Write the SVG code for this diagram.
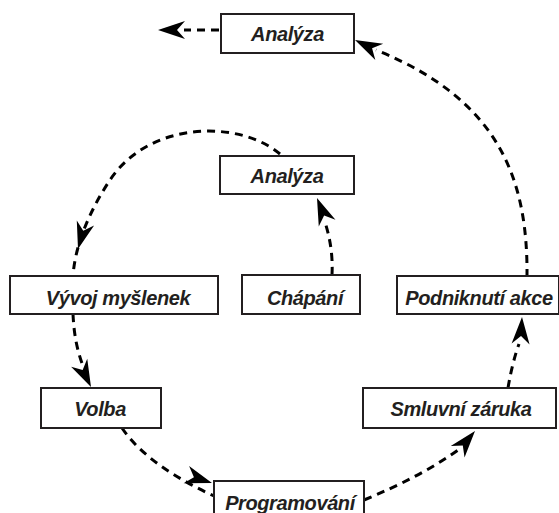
<svg xmlns="http://www.w3.org/2000/svg" xmlns:xlink="http://www.w3.org/1999/xlink" width="559" height="513" viewBox="0 0 559 513">
<style>
.box{fill:#fff;stroke:#231f20;stroke-width:2}
.lbl{font-family:"Liberation Sans",Arial,sans-serif;font-weight:bold;font-style:italic;font-size:20px;letter-spacing:-0.4px;fill:#231f20;text-anchor:middle}
.con{fill:none;stroke:#000;stroke-width:3;stroke-dasharray:8 6}
.ah{fill:#000}
</style>
<defs>
<path id="ah" d="M0,0 L-27,-9 L-19,0 L-27,9 Z"/>
</defs>
<rect width="559" height="513" fill="#fff"/>
<g id="connectors">
<path class="con" d="M219,30 L184,30"/>
<use href="#ah" class="ah" transform="translate(158,30) rotate(180)"/>
<path class="con" d="M527,277 C528,180 500,100 376,50"/>
<use href="#ah" class="ah" transform="translate(355,40) rotate(206)"/>
<path class="con" d="M280,154 C240,120 150,120 110,180 C90,210 75,245 73,276"/>
<use href="#ah" class="ah" transform="translate(78,249) rotate(106)"/>
<path class="con" d="M332,275 C333,255 330,238 325,222"/>
<use href="#ah" class="ah" transform="translate(317,198) rotate(248)"/>
<path class="con" d="M73,314 C74,335 77,350 83,366"/>
<use href="#ah" class="ah" transform="translate(91,387) rotate(64)"/>
<path class="con" d="M122,428 C140,455 175,478 214,496"/>
<use href="#ah" class="ah" transform="translate(212,483) rotate(18)"/>
<path class="con" d="M364,500 C400,485 430,470 458,450"/>
<use href="#ah" class="ah" transform="translate(475,431) rotate(-50)"/>
<path class="con" d="M508,388 C511,370 515,355 519,344"/>
<use href="#ah" class="ah" transform="translate(522,317) rotate(-87)"/>
</g>
<g id="n1"><rect class="box" x="221" y="14" width="133" height="39"/><text class="lbl" x="287.5" y="41">Analýza</text></g>
<g id="n2"><rect class="box" x="220" y="156" width="134" height="38"/><text class="lbl" x="287" y="183">Analýza</text></g>
<g id="n3"><rect class="box" x="10" y="276" width="208" height="38"/><text class="lbl" x="118" y="305">Vývoj myšlenek</text></g>
<g id="n4"><rect class="box" x="242" y="275" width="118" height="39"/><text class="lbl" x="305" y="305">Chápání</text></g>
<g id="n5"><rect class="box" x="397" y="276" width="162" height="38"/><text class="lbl" x="479" y="305">Podniknutí akce</text></g>
<g id="n6"><rect class="box" x="41" y="388" width="120" height="40"/><text class="lbl" x="100" y="416">Volba</text></g>
<g id="n7"><rect class="box" x="363" y="388" width="193" height="40"/><text class="lbl" x="461" y="416">Smluvní záruka</text></g>
<g id="n8"><rect class="box" x="214" y="481" width="150" height="40"/><text class="lbl" x="290" y="510">Programování</text></g>
</svg>
